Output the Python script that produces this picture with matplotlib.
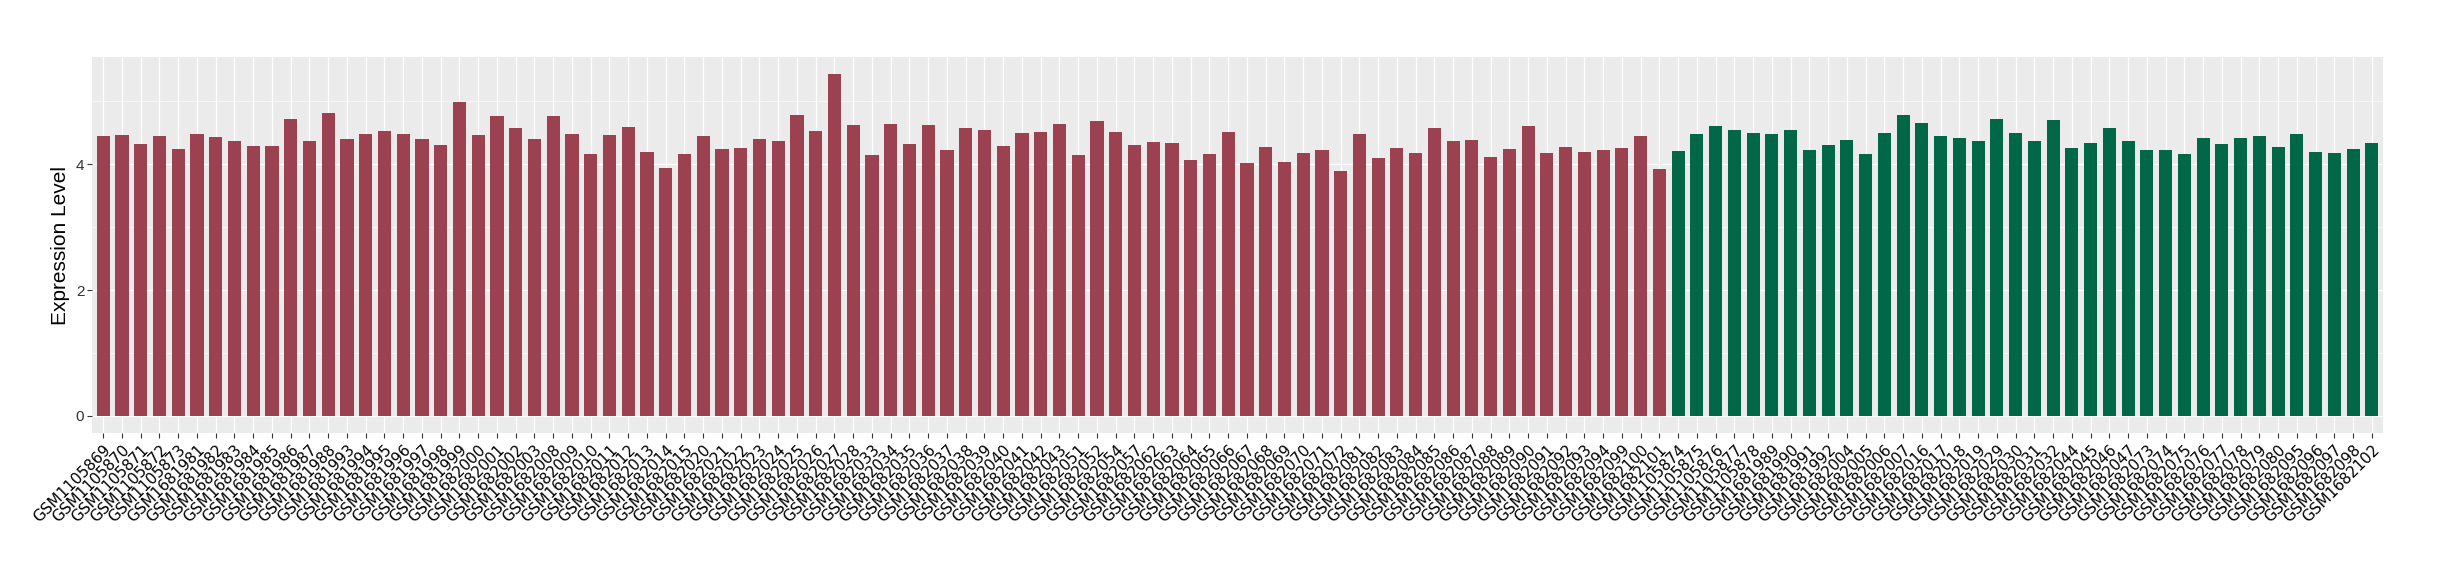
import matplotlib
matplotlib.use('Agg')
import matplotlib.pyplot as plt
import numpy as np

# sample ids, first group (red) then second group (green)
group_a = ['GSM1105869', 'GSM1105870', 'GSM1105871', 'GSM1105872', 'GSM1105873',
           'GSM1681981', 'GSM1681982', 'GSM1681983', 'GSM1681984', 'GSM1681985',
           'GSM1681986', 'GSM1681987', 'GSM1681988', 'GSM1681993', 'GSM1681994',
           'GSM1681995', 'GSM1681996', 'GSM1681997', 'GSM1681998', 'GSM1681999',
           'GSM1682000', 'GSM1682001', 'GSM1682002', 'GSM1682003', 'GSM1682008',
           'GSM1682009', 'GSM1682010', 'GSM1682011', 'GSM1682012', 'GSM1682013',
           'GSM1682014', 'GSM1682015', 'GSM1682020', 'GSM1682021', 'GSM1682022',
           'GSM1682023', 'GSM1682024', 'GSM1682025', 'GSM1682026', 'GSM1682027',
           'GSM1682028', 'GSM1682033', 'GSM1682034', 'GSM1682035', 'GSM1682036',
           'GSM1682037', 'GSM1682038', 'GSM1682039', 'GSM1682040', 'GSM1682041',
           'GSM1682042', 'GSM1682043', 'GSM1682051', 'GSM1682052', 'GSM1682054',
           'GSM1682057', 'GSM1682062', 'GSM1682063', 'GSM1682064', 'GSM1682065',
           'GSM1682066', 'GSM1682067', 'GSM1682068', 'GSM1682069', 'GSM1682070',
           'GSM1682071', 'GSM1682072', 'GSM1682081', 'GSM1682082', 'GSM1682083',
           'GSM1682084', 'GSM1682085', 'GSM1682086', 'GSM1682087', 'GSM1682088',
           'GSM1682089', 'GSM1682090', 'GSM1682091', 'GSM1682092', 'GSM1682093',
           'GSM1682094', 'GSM1682099', 'GSM1682100', 'GSM1682101']
values_a = [4.45, 4.47, 4.32, 4.45, 4.24, 4.48, 4.43, 4.37, 4.29, 4.29,
            4.72, 4.37, 4.81, 4.40, 4.48, 4.53, 4.48, 4.40, 4.31, 4.99,
            4.47, 4.77, 4.58, 4.40, 4.77, 4.48, 4.16, 4.47, 4.59, 4.20,
            3.94, 4.16, 4.45, 4.24, 4.26, 4.40, 4.37, 4.78, 4.53, 5.43,
            4.62, 4.15, 4.64, 4.32, 4.62, 4.23, 4.58, 4.54, 4.29, 4.50,
            4.51, 4.64, 4.15, 4.69, 4.51, 4.31, 4.35, 4.34, 4.07, 4.16,
            4.51, 4.02, 4.28, 4.04, 4.18, 4.23, 3.89, 4.48, 4.10, 4.26,
            4.18, 4.58, 4.37, 4.39, 4.12, 4.24, 4.61, 4.18, 4.28, 4.20,
            4.23, 4.26, 4.45, 3.93]

group_b = ['GSM1105874', 'GSM1105875', 'GSM1105876', 'GSM1105877', 'GSM1105878',
           'GSM1681989', 'GSM1681990', 'GSM1681991', 'GSM1681992', 'GSM1682004',
           'GSM1682005', 'GSM1682006', 'GSM1682007', 'GSM1682016', 'GSM1682017',
           'GSM1682018', 'GSM1682019', 'GSM1682029', 'GSM1682030', 'GSM1682031',
           'GSM1682032', 'GSM1682044', 'GSM1682045', 'GSM1682046', 'GSM1682047',
           'GSM1682073', 'GSM1682074', 'GSM1682075', 'GSM1682076', 'GSM1682077',
           'GSM1682078', 'GSM1682079', 'GSM1682080', 'GSM1682095', 'GSM1682096',
           'GSM1682097', 'GSM1682098', 'GSM1682102']
values_b = [4.21, 4.48, 4.61, 4.54, 4.50, 4.48, 4.54, 4.23, 4.31, 4.39,
            4.16, 4.50, 4.78, 4.66, 4.45, 4.42, 4.37, 4.72, 4.50, 4.37,
            4.70, 4.26, 4.34, 4.58, 4.37, 4.23, 4.23, 4.16, 4.42, 4.32,
            4.42, 4.45, 4.28, 4.48, 4.20, 4.18, 4.24, 4.34]

labels = group_a + group_b
values = values_a + values_b
colors = ['#9B4150'] * len(group_a) + ['#006847'] * len(group_b)

fig = plt.figure(figsize=(24.4, 5.8), dpi=100)
ax = fig.add_axes([0.0377, 0.2534, 0.939, 0.6483])

x = np.arange(len(labels))
ax.bar(x, values, width=0.7, color=colors, zorder=2)

# ggplot-like look
ax.set_facecolor('#EBEBEB')
for s in ax.spines.values():
    s.set_visible(False)
ymax = max(values)
ax.set_xlim(-0.6, len(labels) - 0.4)
ax.set_ylim(-0.05 * ymax, ymax * 1.05)
ax.set_yticks([0, 2, 4])
ax.set_yticks([1, 3, 5], minor=True)
ax.grid(which='major', axis='both', color='white', linewidth=0.9, zorder=0)
ax.grid(which='minor', axis='y', color='white', linewidth=0.45, zorder=0)
ax.set_axisbelow(True)

ax.set_xticks(x)
ax.set_xticklabels(labels, rotation=45, ha='right', va='top',
                   rotation_mode='anchor', fontsize=11, family='DejaVu Sans')
ax.tick_params(axis='both', which='major', length=3.5, width=0.8, color='#333333')
ax.tick_params(axis='y', which='minor', length=0)
ax.tick_params(axis='x', pad=3)
ax.tick_params(axis='y', pad=2)
for t in ax.get_yticklabels():
    t.set_fontsize(11)
    t.set_color('#333333')
    t.set_family('Liberation Sans')

ax.set_ylabel('Expression Level', fontsize=15, family='Liberation Sans', labelpad=4)

fig.savefig('out.png', dpi=100)
